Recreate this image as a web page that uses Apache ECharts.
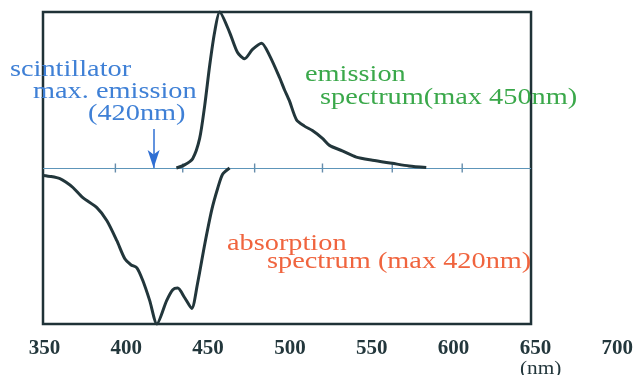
<!DOCTYPE html>
<html>
<head>
<meta charset="utf-8">
<style>
  html, body { margin: 0; padding: 0; background: #ffffff; }
  #chart { width: 636px; height: 375px; }
</style>
<script src="https://cdn.jsdelivr.net/npm/echarts@6/dist/echarts.min.js"></script>
</head>
<body>
<div id="chart"></div>
<script>
// Wavelength axis (nm)
const wavelengthLabels = [350, 400, 450, 500, 550, 600, 650, 700];
const frameRange = [350, 650];

// Emission spectrum (normalised, positive half)
const emissionNm  = [432, 437, 442, 446.3, 449.4, 452.5, 455.5, 458.6, 464.7, 469.6, 473.9, 478.8, 484.4, 489.3, 495.4, 498.5, 501.5, 505.8, 510.5, 515.6, 521.8, 526.1, 534, 542.6, 552.5, 564.7, 575, 585.6];
const emissionVal = [0, 0.02, 0.06, 0.19, 0.40, 0.66, 0.87, 1.0, 0.87, 0.74, 0.70, 0.76, 0.80, 0.72, 0.58, 0.50, 0.43, 0.31, 0.27, 0.24, 0.19, 0.145, 0.11, 0.07, 0.05, 0.03, 0.013, 0.003];

// Absorption spectrum (normalised, drawn downward)
const absorptionNm  = [350, 355, 360.4, 364, 368.4, 374.5, 383.1, 389.3, 395.4, 400.3, 404, 407.7, 411.3, 415.6, 420, 426, 429.8, 432.8, 437, 441.4, 445, 449.4, 453.7, 457.4, 460.4, 464.7];
const absorptionVal = [-0.048, -0.055, -0.068, -0.09, -0.125, -0.19, -0.254, -0.338, -0.466, -0.582, -0.62, -0.64, -0.72, -0.85, -1.0, -0.85, -0.78, -0.77, -0.83, -0.90, -0.74, -0.49, -0.27, -0.13, -0.04, 0];

// Tick marks along the zero line
const baselineTicks = [394.5, 435.9, 480.1, 521.8, 564.7, 607.7];

// Scintillator emission marker
const markerNm = 418;
const markerTop = 0.25;

// Annotation text
const blueLines = ['scintillator', 'max. emission', '(420nm)'];
const greenLines = ['emission', 'spectrum(max 450nm)'];
const redLines = ['absorption', 'spectrum (max 420nm)'];
const unitText = '(nm)';

const zip = (xs, ys) => xs.map((x, i) => [x, ys[i]]);

const curveColor = '#22363b';
const serif = '"Liberation Serif", "Times New Roman", serif';

// Plot area: 350 nm at x=43, 650 nm at x=532 (1.63 px/nm); grid runs to x=625
const gridLeft = 43, gridRightEdge = 625;
const pxPerNm = 1.63;
const dataMax = 350 + (gridRightEdge - gridLeft) / pxPerNm;
// Printed scale below the frame is set slightly wider (1.64 px/nm)
const labelPxPerNm = 1.64;
const labelMin = 350 - 1.4 / labelPxPerNm;
const labelMax = labelMin + (gridRightEdge - gridLeft) / labelPxPerNm;

function txt(x, y, text, size, color, weight, sx) {
  return {
    type: 'text', x: x, y: y, scaleX: sx, scaleY: 1, z: 20,
    style: {
      text: text, x: 0, y: 0,
      fontFamily: 'Liberation Serif',
      fontSize: size,
      fontWeight: weight || 'normal',
      fill: color,
      align: 'left', verticalAlign: 'middle',
      textAlign: 'left', textVerticalAlign: 'middle'
    }
  };
}

const chart = echarts.init(document.getElementById('chart'), null, { renderer: 'canvas' });

chart.setOption({
  backgroundColor: '#ffffff',
  animation: false,
  grid: { left: gridLeft, top: 12, right: 636 - gridRightEdge, bottom: 51, show: false },
  xAxis: [
    {
      type: 'value', min: 350, max: dataMax,
      axisLine: { show: false, onZero: false },
      axisTick: { show: false },
      splitLine: { show: false },
      axisLabel: { show: false }
    },
    {
      type: 'value', min: labelMin, max: labelMax, position: 'bottom',
      axisLine: { show: false, onZero: false },
      axisTick: { show: false },
      splitLine: { show: false },
      axisLabel: {
        customValues: wavelengthLabels,
        margin: 14,
        color: '#23373c',
        fontFamily: serif,
        fontWeight: 'bold',
        fontSize: 21
      }
    }
  ],
  yAxis: {
    type: 'value', min: -1, max: 1,
    show: false,
    splitLine: { show: false }
  },
  series: [
    {
      name: 'baseline',
      type: 'scatter',
      data: baselineTicks.map(x => [x, 0]),
      symbol: 'rect',
      symbolSize: [1.4, 9],
      itemStyle: { color: '#3f6f96' },
      silent: true,
      clip: false,
      z: 2,
      markLine: {
        silent: true,
        symbol: 'none',
        label: { show: false },
        lineStyle: { color: '#5d95b9', width: 1, type: 'solid' },
        data: [[{ coord: [frameRange[0], 0] }, { coord: [frameRange[1], 0] }]]
      },
      markArea: {
        silent: true,
        itemStyle: { color: 'rgba(0,0,0,0)', borderColor: '#1f3237', borderWidth: 2.5 },
        data: [[{ coord: [frameRange[0], -1] }, { coord: [frameRange[1], 1] }]]
      }
    },
    {
      name: 'emission',
      type: 'line',
      data: zip(emissionNm, emissionVal),
      smooth: 0.25,
      symbol: 'none',
      clip: false,
      z: 5,
      lineStyle: { color: curveColor, width: 3 },
      markLine: {
        silent: true,
        symbol: ['none', 'arrow'],
        symbolSize: [9, 18],
        label: { show: false },
        lineStyle: { color: '#2f6fd3', width: 1.5, type: 'solid' },
        data: [[{ coord: [markerNm, markerTop] }, { coord: [markerNm, 0] }]]
      }
    },
    {
      name: 'absorption',
      type: 'line',
      data: zip(absorptionNm, absorptionVal),
      smooth: 0.25,
      symbol: 'none',
      clip: false,
      z: 5,
      lineStyle: { color: curveColor, width: 3 }
    }
  ],
  graphic: [
    txt(10, 70, blueLines[0], 24, '#3f80d6', 'normal', 1.18),
    txt(33, 92, blueLines[1], 24, '#3f80d6', 'normal', 1.18),
    txt(88, 114, blueLines[2], 24, '#3f80d6', 'normal', 1.18),
    txt(305, 75, greenLines[0], 24, '#3aa84a', 'normal', 1.18),
    txt(320, 98, greenLines[1], 24, '#3aa84a', 'normal', 1.18),
    txt(227, 244, redLines[0], 24, '#f0643e', 'normal', 1.18),
    txt(267, 262, redLines[1], 24, '#f0643e', 'normal', 1.18),
    txt(520, 369, unitText, 19, '#23373c', 'normal', 1.12)
  ]
});
</script>
</body>
</html>
